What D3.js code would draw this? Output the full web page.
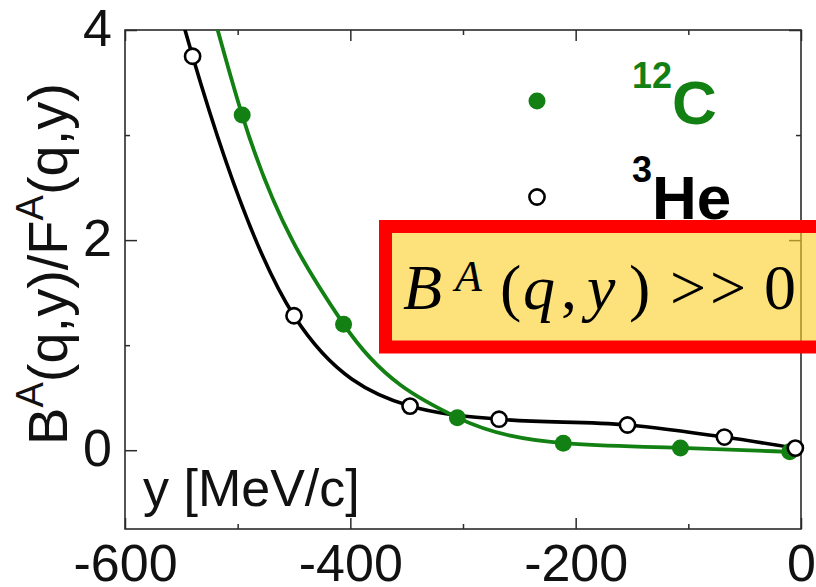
<!DOCTYPE html>
<html>
<head>
<meta charset="utf-8">
<script src="https://cdn.jsdelivr.net/npm/d3@7"></script>
<style>
  html, body { margin: 0; padding: 0; background: #fff; }
  svg { display: block; }
</style>
</head>
<body>
<svg id="chart" width="816" height="587"></svg>
<script>
// Measured points: y [MeV/c] and the ratio B^A/F^A
const he3Y     = [-540, -450, -347, -268, -154, -68, -5];
const he3Ratio = [3.75, 1.28, 0.42, 0.295, 0.24, 0.125, 0.02];
const c12Y     = [-496, -406, -305, -211, -107, -10];
const c12Ratio = [3.19, 1.20, 0.31, 0.067, 0.022, -0.015];

// Fit curves: where each leaves the top of the frame, then through the points
const he3FitY     = [-547, -540, -450, -347, -268, -154, -68, -5];
const he3FitRatio = [4.01, 3.75, 1.28, 0.42, 0.295, 0.24, 0.125, 0.02];
const c12FitY     = [-518, -496, -406, -305, -211, -107, -10];
const c12FitRatio = [4.01, 3.19, 1.20, 0.31, 0.067, 0.022, -0.015];

// Axis ticks
const xMajorTicks = [-600, -400, -200, 0];
const xMinorTicks = [-500, -300, -100];
const yMajorTicks = [0, 2, 4];
const yMinorTicks = [1, 3];

const GREEN = "rgb(18,128,18)";
const FRAME = "#2b2b2b";

const svg = d3.select("#chart");
const plotLeft = 125, plotRight = 801, plotTop = 30, plotBottom = 529;

const x = d3.scaleLinear().domain([-600, 0]).range([plotLeft, plotRight]);
const y = d3.scaleLinear().domain([-0.75, 4]).range([plotBottom, plotTop]);

svg.append("defs").append("clipPath").attr("id", "plotClip")
  .append("rect").attr("x", plotLeft).attr("y", plotTop)
  .attr("width", plotRight - plotLeft).attr("height", plotBottom - plotTop);

// Plain hyphen for negative tick values
const plainNum = d => String(d);

// Axes: ticks point inward, labels on bottom and left only
function styleAxis(g) {
  g.select(".domain").remove();
  g.selectAll(".tick line").attr("stroke", FRAME).attr("stroke-width", 1.5);
  g.selectAll(".tick text")
    .attr("fill", "#111")
    .style("font-family", "'Liberation Sans', Arial, sans-serif")
    .style("font-size", "52px");
}

svg.append("g").attr("transform", `translate(0,${plotBottom})`)
  .call(d3.axisBottom(x).tickValues(xMajorTicks).tickSize(-11).tickPadding(15).tickFormat(plainNum))
  .call(styleAxis);
svg.append("g").attr("transform", `translate(0,${plotBottom})`)
  .call(d3.axisBottom(x).tickValues(xMinorTicks).tickSize(-5).tickFormat(""))
  .call(styleAxis);
svg.append("g").attr("transform", `translate(0,${plotTop})`)
  .call(d3.axisTop(x).tickValues(xMajorTicks).tickSize(-11).tickFormat(""))
  .call(styleAxis);
svg.append("g").attr("transform", `translate(0,${plotTop})`)
  .call(d3.axisTop(x).tickValues(xMinorTicks).tickSize(-5).tickFormat(""))
  .call(styleAxis);

const yLab = svg.append("g").attr("transform", `translate(${plotLeft},0)`)
  .call(d3.axisLeft(y).tickValues(yMajorTicks).tickSize(-12).tickPadding(13).tickFormat(plainNum))
  .call(styleAxis);
yLab.selectAll(".tick text").attr("dy", "0.29em");
svg.append("g").attr("transform", `translate(${plotLeft},0)`)
  .call(d3.axisLeft(y).tickValues(yMinorTicks).tickSize(-5).tickFormat(""))
  .call(styleAxis);
svg.append("g").attr("transform", `translate(${plotRight},0)`)
  .call(d3.axisRight(y).tickValues(yMajorTicks).tickSize(-12).tickFormat(""))
  .call(styleAxis);
svg.append("g").attr("transform", `translate(${plotRight},0)`)
  .call(d3.axisRight(y).tickValues(yMinorTicks).tickSize(-5).tickFormat(""))
  .call(styleAxis);

// Frame
svg.append("rect")
  .attr("x", plotLeft).attr("y", plotTop)
  .attr("width", plotRight - plotLeft).attr("height", plotBottom - plotTop)
  .attr("fill", "none").attr("stroke", FRAME).attr("stroke-width", 1.6);

// Fit curves
const line = d3.line()
  .x(d => x(d[0])).y(d => y(d[1]))
  .curve(d3.curveMonotoneX);

const plot = svg.append("g").attr("clip-path", "url(#plotClip)");
plot.append("path")
  .attr("d", line(d3.zip(he3FitY, he3FitRatio)))
  .attr("fill", "none").attr("stroke", "#000").attr("stroke-width", 3.6)
  .attr("stroke-linejoin", "round");
plot.append("path")
  .attr("d", line(d3.zip(c12FitY, c12FitRatio)))
  .attr("fill", "none").attr("stroke", GREEN).attr("stroke-width", 3.8)
  .attr("stroke-linejoin", "round");

// Markers
svg.append("g").selectAll("circle")
  .data(d3.zip(c12Y, c12Ratio)).join("circle")
  .attr("cx", d => x(d[0])).attr("cy", d => y(d[1]))
  .attr("r", 8.5).attr("fill", GREEN);
svg.append("g").selectAll("circle")
  .data(d3.zip(he3Y, he3Ratio)).join("circle")
  .attr("cx", d => x(d[0])).attr("cy", d => y(d[1]))
  .attr("r", 7.6).attr("fill", "#fff").attr("stroke", "#000").attr("stroke-width", 2.6);

// Axis titles
const sans = "'Liberation Sans', Arial, sans-serif";
svg.append("text")
  .attr("x", 143).attr("y", 506)
  .style("font-family", sans).style("font-size", "52px").attr("fill", "#111")
  .text("y [MeV/c]");

const yt = svg.append("text")
  .attr("transform", "translate(67,264) rotate(-90)")
  .attr("text-anchor", "middle")
  .style("font-family", sans).style("font-size", "56px").attr("fill", "#111");
yt.append("tspan").text("B");
yt.append("tspan").attr("dy", -24).style("font-size", "38px").text("A");
yt.append("tspan").attr("dy", 24).text("(q,y)/F");
yt.append("tspan").attr("dy", -24).style("font-size", "38px").text("A");
yt.append("tspan").attr("dy", 24).text("(q,y)");

// Legend
svg.append("circle").attr("cx", 537).attr("cy", 101).attr("r", 8.5).attr("fill", GREEN);
svg.append("circle").attr("cx", 537).attr("cy", 197).attr("r", 7.6)
  .attr("fill", "#fff").attr("stroke", "#000").attr("stroke-width", 2.6);

const legC = svg.append("text").attr("x", 632).attr("y", 88)
  .style("font-family", sans).style("font-weight", "bold").attr("fill", GREEN);
legC.append("tspan").style("font-size", "36px").text("12");
legC.append("tspan").attr("dy", 36).style("font-size", "62px").text("C");

const legHe = svg.append("text").attr("x", 632).attr("y", 182)
  .style("font-family", sans).style("font-weight", "bold").attr("fill", "#000");
legHe.append("tspan").style("font-size", "36px").text("3");
legHe.append("tspan").attr("dy", 37).style("font-size", "62px").text("He");

// Highlight box with the condition
svg.append("rect")
  .attr("x", 385.5).attr("y", 226.5).attr("width", 438).attr("height", 120.5)
  .attr("fill", "rgb(252,206,40)").attr("fill-opacity", 0.62)
  .attr("stroke", "#ff0000").attr("stroke-width", 13);

const serif = "'Liberation Serif', 'Times New Roman', serif";
const eq = svg.append("g")
  .style("font-family", serif).style("font-size", "64px").attr("fill", "#000");
const glyphs = [
  { t: "B", x: 403, italic: true },
  { t: "(", x: 500 },
  { t: "q", x: 523, italic: true },
  { t: ",", x: 561 },
  { t: "y", x: 587, italic: true },
  { t: ")", x: 629 },
  { t: ">", x: 670 },
  { t: ">", x: 710 },
  { t: "0", x: 764 }
];
eq.selectAll("text.g").data(glyphs).join("text")
  .attr("class", "g")
  .attr("x", d => d.x).attr("y", 309)
  .style("font-style", d => d.italic ? "italic" : "normal")
  .text(d => d.t);
eq.append("text").attr("x", 455).attr("y", 291)
  .style("font-style", "italic").style("font-size", "44px").text("A");
</script>
</body>
</html>
